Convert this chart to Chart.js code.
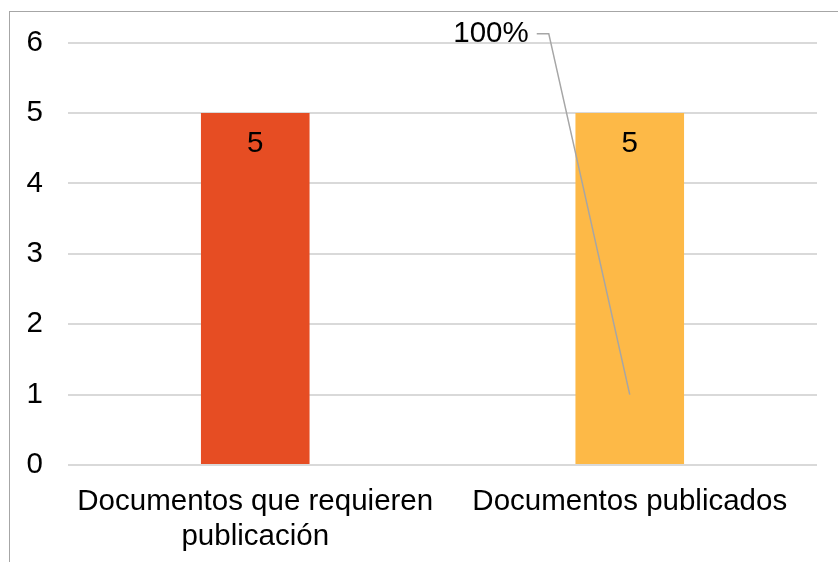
<!DOCTYPE html>
<html>
<head>
<meta charset="utf-8">
<script src="https://cdn.jsdelivr.net/npm/chart.js@4.4.1/dist/chart.umd.min.js"></script>
<style>
  html, body { margin: 0; padding: 0; background: #fff; overflow: hidden; }
  #wrap { position: absolute; left: 0; top: 0; width: 838px; height: 562px; }
  #frame { position: absolute; left: 9px; top: 11px; width: 900px; height: 600px; border: 1px solid #a6a6a6; box-sizing: border-box; }
  canvas { position: absolute; left: 0; top: 0; }
</style>
</head>
<body>
<div id="wrap">
  <div id="frame"></div>
  <canvas id="c" width="838" height="562"></canvas>
</div>
<script>
const categories = [["Documentos que requieren", "publicación"], "Documentos publicados"];
const values = [5, 5];
const barColors = ["#E64D23", "#FDB947"];
const yTicks = [0, 1, 2, 3, 4, 5, 6];
const percentLabels = [null, "100%"];
const percentAnchor = [null, 1];

const FONT = "'Liberation Sans', Arial, sans-serif";
const FS = 29.5;

const labelPlugin = {
  id: 'labels',
  afterDatasetsDraw(chart) {
    const ctx = chart.ctx;
    const meta = chart.getDatasetMeta(0);
    const xs = chart.scales.x, ys = chart.scales.y;
    ctx.save();
    ctx.font = FS + "px " + FONT;
    ctx.fillStyle = "#000";
    ctx.textAlign = "center";
    ctx.textBaseline = "middle";
    meta.data.forEach((bar, i) => {
      ctx.fillText(String(values[i]), bar.x, bar.y + 31);
    });
    // percent labels with leader line
    percentLabels.forEach((lab, i) => {
      if (lab == null) return;
      const ax = xs.getPixelForValue(i);
      const ay = ys.getPixelForValue(percentAnchor[i]);
      const ly = chart.chartArea.top - 9;
      const lx = ax - 101; // right edge of label
      ctx.strokeStyle = "#a6a6a6";
      ctx.lineWidth = 1.5;
      ctx.beginPath();
      ctx.moveTo(lx + 8, ly);
      ctx.lineTo(lx + 20, ly);
      ctx.lineTo(ax, ay);
      ctx.stroke();
      ctx.textAlign = "right";
      ctx.fillText(lab, lx, ly);
    });
    ctx.restore();
  }
};

new Chart(document.getElementById('c'), {
  type: 'bar',
  data: {
    labels: categories,
    datasets: [{
      data: values,
      backgroundColor: barColors,
      borderWidth: 0,
      barPercentage: 0.29,
      categoryPercentage: 1
    }]
  },
  options: {
    responsive: false,
    animation: false,
    devicePixelRatio: 1,
    layout: { padding: { top: 42, right: 21, left: 0, bottom: 0 } },
    plugins: { legend: { display: false }, tooltip: { enabled: false } },
    scales: {
      x: {
        grid: { display: false, drawTicks: false },
        border: { display: false },
        ticks: { color: "#000", font: { family: FONT, size: FS, lineHeight: 35 / FS }, padding: 19, maxRotation: 0, autoSkip: false },
        afterFit(s) { s.height = 97; }
      },
      y: {
        min: 0, max: 6,
        grid: { color: "#d9d9d9", lineWidth: 2, drawTicks: false },
        border: { display: false },
        afterBuildTicks(s) { s.ticks = yTicks.map(v => ({ value: v })); },
        ticks: { color: "#000", font: { family: FONT, size: FS }, padding: 25 },
        afterFit(s) { s.width = 68; }
      }
    }
  },
  plugins: [labelPlugin]
});
</script>
</body>
</html>
